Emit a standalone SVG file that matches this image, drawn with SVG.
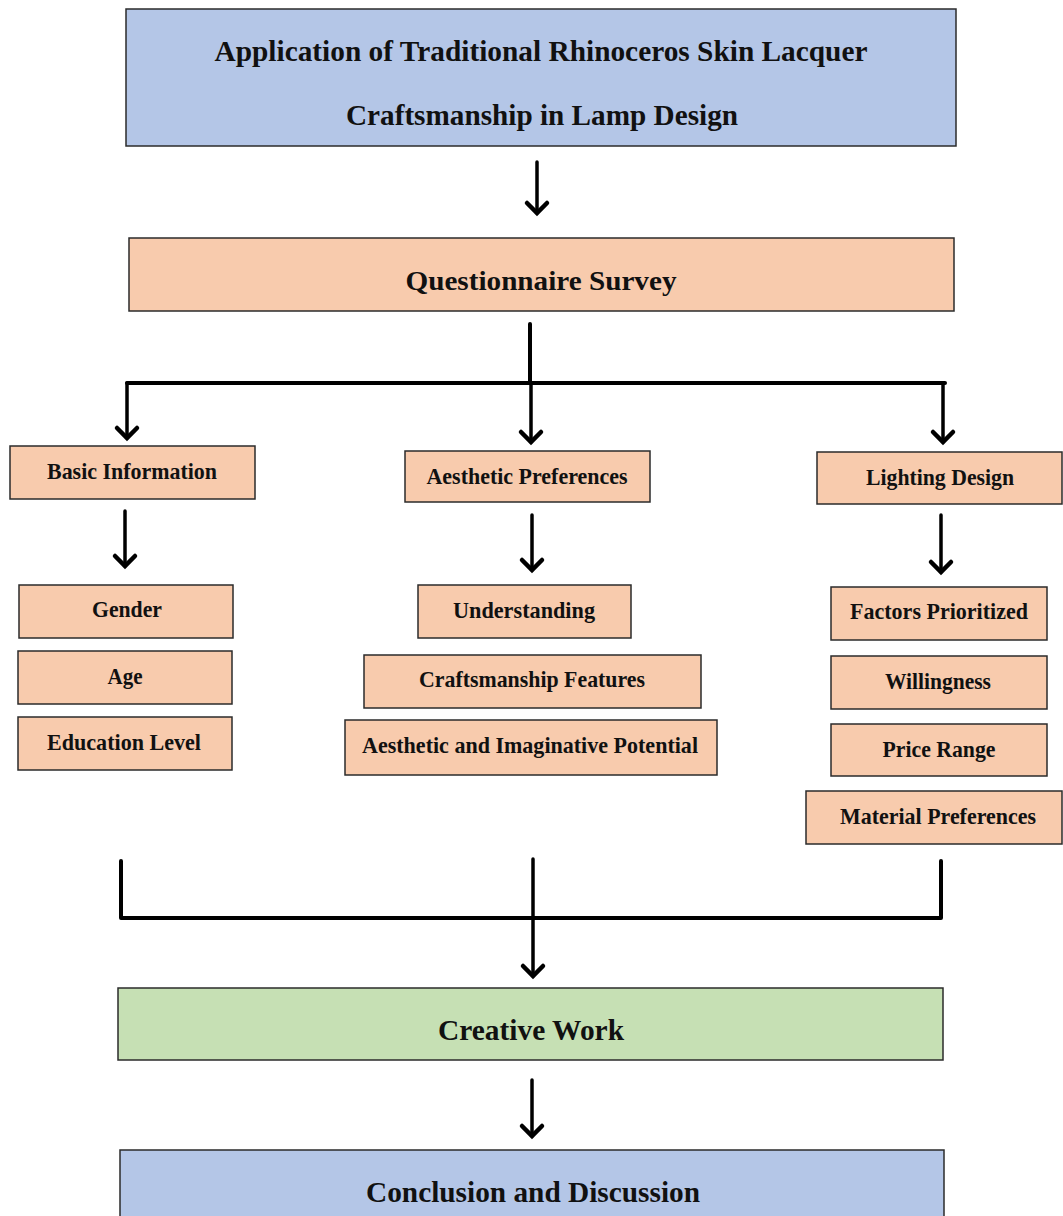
<svg xmlns="http://www.w3.org/2000/svg" width="1063" height="1216" viewBox="0 0 1063 1216">
<style>
.box{stroke:#2b2b2b;stroke-width:1.5}
.blue{fill:#b4c6e7}
.peach{fill:#f8cbad}
.green{fill:#c6e0b4}
text{font-family:"Liberation Serif","Times New Roman",serif;font-weight:bold;fill:#111;text-anchor:middle;dominant-baseline:central}
.t20{font-size:23px}
.t24{font-size:27px}
.t26{font-size:29px}
.ln{fill:none;stroke:#000;stroke-width:4;stroke-linecap:round;stroke-linejoin:round}
.sh{fill:none;stroke:#000;stroke-width:3.5;stroke-linecap:round}
</style>
<defs>
<marker id="ah" viewBox="-14 -14 28 28" markerWidth="28" markerHeight="28" refX="0" refY="0" orient="auto" markerUnits="userSpaceOnUse">
<polyline points="-10,-10 0,0 -10,10" fill="none" stroke="#000" stroke-width="4.5" stroke-linecap="round" stroke-linejoin="miter"/>
</marker>
</defs>
<rect width="1063" height="1216" fill="#fff"/>

<g id="connectors">
<line class="sh" x1="537" y1="162" x2="537" y2="213" marker-end="url(#ah)"/>
<line class="ln" x1="530" y1="324" x2="530" y2="383"/>
<polyline class="ln" points="127,383 945,383"/>
<line class="sh" x1="127" y1="383" x2="127" y2="438" marker-end="url(#ah)"/>
<line class="sh" x1="531" y1="383" x2="531" y2="442" marker-end="url(#ah)"/>
<line class="sh" x1="943" y1="383" x2="943" y2="442" marker-end="url(#ah)"/>
<line class="sh" x1="125" y1="511" x2="125" y2="566" marker-end="url(#ah)"/>
<line class="sh" x1="532" y1="515" x2="532" y2="570" marker-end="url(#ah)"/>
<line class="sh" x1="941" y1="515" x2="941" y2="572" marker-end="url(#ah)"/>
<polyline class="ln" points="121,861 121,918 941,918 941,861"/>
<line class="sh" x1="533" y1="859" x2="533" y2="976" marker-end="url(#ah)"/>
<line class="sh" x1="532" y1="1080" x2="532" y2="1136" marker-end="url(#ah)"/>
</g>

<g id="title">
<rect class="box blue" x="126" y="9" width="830" height="137"/>
<text class="t26" x="541" y="51" textLength="653" lengthAdjust="spacingAndGlyphs">Application of Traditional Rhinoceros Skin Lacquer</text>
<text class="t26" x="542" y="115" textLength="392" lengthAdjust="spacingAndGlyphs">Craftsmanship in Lamp Design</text>
</g>

<g id="questionnaire">
<rect class="box peach" x="129" y="238" width="825" height="73"/>
<text class="t24" x="541" y="281" textLength="271" lengthAdjust="spacingAndGlyphs">Questionnaire Survey</text>
</g>

<g id="basic-information">
<rect class="box peach" x="10" y="446" width="245" height="53"/>
<text class="t20" x="132" y="471" textLength="170" lengthAdjust="spacingAndGlyphs">Basic Information</text>
</g>
<g id="aesthetic-preferences">
<rect class="box peach" x="405" y="451" width="245" height="51"/>
<text class="t20" x="527" y="476" textLength="201" lengthAdjust="spacingAndGlyphs">Aesthetic Preferences</text>
</g>
<g id="lighting-design">
<rect class="box peach" x="817" y="452" width="245" height="52"/>
<text class="t20" x="940" y="477" textLength="148" lengthAdjust="spacingAndGlyphs">Lighting Design</text>
</g>

<g id="gender">
<rect class="box peach" x="19" y="585" width="214" height="53"/>
<text class="t20" x="127" y="609" textLength="70" lengthAdjust="spacingAndGlyphs">Gender</text>
</g>
<g id="age">
<rect class="box peach" x="18" y="651" width="214" height="53"/>
<text class="t20" x="125" y="676" textLength="35" lengthAdjust="spacingAndGlyphs">Age</text>
</g>
<g id="education-level">
<rect class="box peach" x="18" y="717" width="214" height="53"/>
<text class="t20" x="124" y="742" textLength="154" lengthAdjust="spacingAndGlyphs">Education Level</text>
</g>

<g id="understanding">
<rect class="box peach" x="418" y="585" width="213" height="53"/>
<text class="t20" x="524" y="610" textLength="142" lengthAdjust="spacingAndGlyphs">Understanding</text>
</g>
<g id="craftsmanship-features">
<rect class="box peach" x="364" y="655" width="337" height="53"/>
<text class="t20" x="532" y="679" textLength="226" lengthAdjust="spacingAndGlyphs">Craftsmanship Features</text>
</g>
<g id="aesthetic-imaginative">
<rect class="box peach" x="345" y="720" width="372" height="55"/>
<text class="t20" x="530" y="745" textLength="336" lengthAdjust="spacingAndGlyphs">Aesthetic and Imaginative Potential</text>
</g>

<g id="factors-prioritized">
<rect class="box peach" x="831" y="587" width="216" height="53"/>
<text class="t20" x="939" y="611" textLength="178" lengthAdjust="spacingAndGlyphs">Factors Prioritized</text>
</g>
<g id="willingness">
<rect class="box peach" x="831" y="656" width="216" height="53"/>
<text class="t20" x="938" y="681" textLength="106" lengthAdjust="spacingAndGlyphs">Willingness</text>
</g>
<g id="price-range">
<rect class="box peach" x="831" y="724" width="216" height="52"/>
<text class="t20" x="939" y="749" textLength="113" lengthAdjust="spacingAndGlyphs">Price Range</text>
</g>
<g id="material-preferences">
<rect class="box peach" x="806" y="791" width="256" height="53"/>
<text class="t20" x="938" y="816" textLength="196" lengthAdjust="spacingAndGlyphs">Material Preferences</text>
</g>

<g id="creative-work">
<rect class="box green" x="118" y="988" width="825" height="72"/>
<text class="t26" x="531" y="1030" textLength="186" lengthAdjust="spacingAndGlyphs">Creative Work</text>
</g>

<g id="conclusion">
<rect class="box blue" x="120" y="1150" width="824" height="70"/>
<text class="t26" x="533" y="1192" textLength="334" lengthAdjust="spacingAndGlyphs">Conclusion and Discussion</text>
</g>
</svg>
